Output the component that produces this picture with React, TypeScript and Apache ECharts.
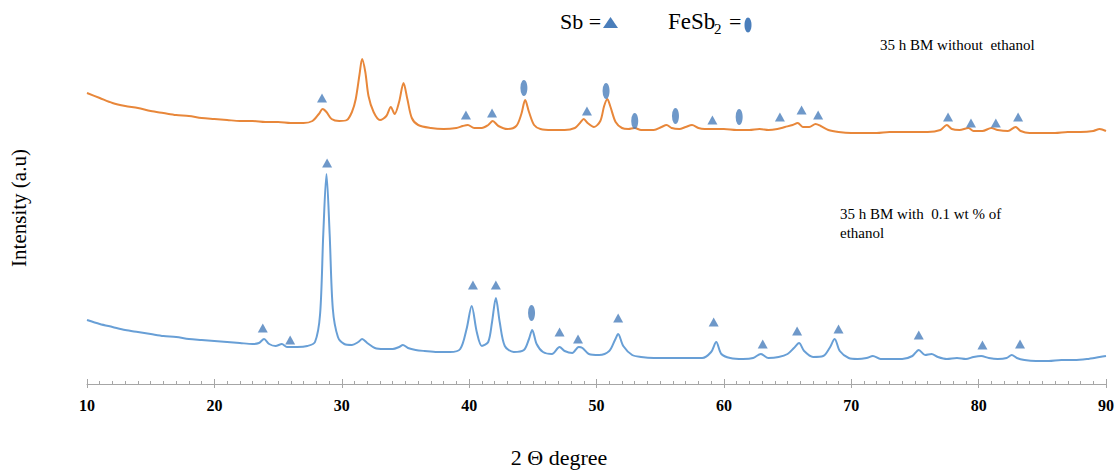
import React, { useEffect, useRef } from "react";
import * as echarts from "echarts";

// 2θ (degree) vs intensity (a.u.)
const orangeScan: [number, number][] = [
  [10, 291], [11, 286], [12, 281], [13, 278], [14, 276], [15, 273], [16, 271], [17, 269], [18, 268], [19, 266],
  [20, 265], [21, 264], [22, 263], [23, 263], [24, 262], [25, 262], [26, 261], [27, 261], [27.7, 263], [28.2, 270],
  [28.5, 275], [28.8, 272], [29.2, 265], [29.8, 263], [30.4, 264], [30.8, 272], [31.1, 285], [31.4, 310], [31.6, 325],
  [31.85, 312], [32.1, 288], [32.5, 272], [33.0, 264], [33.5, 268], [33.85, 277], [34.15, 270], [34.5, 282], [34.85, 301],
  [35.15, 285], [35.5, 266], [36, 259], [37, 256], [38, 255], [39, 256], [39.5, 258], [39.9, 259], [40.4, 256], [41, 256],
  [41.5, 259], [41.85, 263], [42.3, 258], [43, 255], [43.7, 258], [44.1, 270], [44.4, 284], [44.7, 272], [45.1, 259],
  [45.6, 255], [46.5, 254], [47.5, 254], [48.3, 256], [48.7, 261], [49.0, 265], [49.3, 261], [49.8, 257], [50.3, 263],
  [50.6, 278], [50.85, 285], [51.1, 277], [51.5, 262], [52, 256], [52.5, 255], [53, 256], [53.5, 254], [54.5, 254],
  [55.1, 257], [55.5, 259], [55.9, 256], [56.5, 255], [57.0, 257], [57.5, 259], [58, 256], [58.5, 255], [59.3, 255],
  [60, 255], [61, 254], [62, 254], [62.8, 255], [63.5, 254], [64.2, 255], [64.8, 257], [65.4, 259], [65.8, 261],
  [66.2, 257], [66.7, 257], [67.2, 260], [67.6, 258], [68.2, 254], [69, 252], [70, 251], [71, 251], [72, 251], [73, 252],
  [74, 252], [75, 252], [76, 252], [77.0, 254], [77.5, 259], [77.9, 255], [78.5, 254], [79.2, 256], [79.6, 253],
  [80.3, 253], [81.0, 256], [81.5, 254], [82.3, 253], [82.9, 257], [83.3, 253], [84, 251], [85, 251], [86, 251],
  [87, 252], [88, 252], [89, 253], [89.5, 255], [90, 253],
];

const blueScan: [number, number][] = [
  [10, 64], [11, 60], [12, 57], [13, 54], [14, 52], [15, 50], [16, 48], [17, 47], [18, 45], [19, 44], [20, 43], [21, 42],
  [22, 41], [23, 40], [23.5, 41], [23.9, 45], [24.3, 40], [24.8, 38], [25.3, 40], [25.7, 37], [26.5, 37], [27.3, 38],
  [27.9, 42], [28.3, 70], [28.55, 150], [28.8, 210], [29.05, 150], [29.3, 75], [29.7, 47], [30.2, 40], [30.8, 39],
  [31.3, 42], [31.6, 45], [32.0, 41], [32.6, 36], [33.3, 35], [34.0, 35], [34.5, 37], [34.8, 39], [35.2, 36], [35.8, 34],
  [36.5, 33], [37.5, 32], [38.5, 32], [39.3, 35], [39.8, 55], [40.2, 78], [40.6, 52], [41.0, 38], [41.5, 42], [41.8, 62],
  [42.1, 86], [42.4, 62], [42.8, 38], [43.5, 32], [44.3, 34], [44.7, 45], [44.95, 54], [45.3, 40], [45.8, 32], [46.5, 30],
  [47.1, 37], [47.5, 33], [48.1, 31], [48.6, 37], [48.9, 36], [49.4, 30], [50.2, 29], [51.0, 33], [51.45, 44], [51.7, 50],
  [52.1, 38], [52.8, 29], [53.5, 27], [54.5, 26], [55.5, 26], [56.5, 26], [57.5, 26], [58.3, 26], [59.0, 32], [59.4, 42],
  [59.8, 30], [60.5, 26], [61.5, 25], [62.3, 26], [62.9, 30], [63.5, 26], [64.3, 27], [65.0, 30], [65.5, 36], [65.9, 41],
  [66.3, 33], [67, 27], [67.8, 28], [68.3, 36], [68.7, 45], [69.1, 33], [69.8, 26], [70.5, 25], [71.2, 26], [71.7, 28],
  [72.3, 25], [73, 25], [74, 25], [74.8, 28], [75.3, 34], [75.8, 29], [76.3, 30], [76.8, 27], [77.5, 25], [78.3, 26],
  [79, 25], [79.6, 27], [80.2, 28], [80.8, 26], [81.5, 25], [82.2, 26], [82.6, 29], [83.0, 26], [83.6, 24], [84.5, 23],
  [85.5, 23], [86.5, 24], [87.5, 24], [88.5, 25], [89.5, 27], [90, 28],
];

// phase markers (position above each peak)
const sbMarks: [number, number][] = [
  [28.45, 286], [39.75, 269], [41.8, 271], [49.25, 273], [59.1, 264], [64.4, 267], [66.1, 274], [67.4, 269],
  [77.6, 267], [79.4, 261], [81.35, 261], [83.1, 267],
  [23.8, 56], [25.95, 44], [28.85, 221], [40.3, 99], [42.1, 99], [47.1, 52], [48.55, 45], [51.7, 66], [59.2, 62],
  [63.05, 40], [65.75, 53], [69.0, 55], [75.3, 49], [80.3, 39], [83.25, 40],
];
const feSb2Marks: [number, number][] = [
  [44.3, 296], [50.75, 293], [53.0, 263], [56.2, 268], [61.2, 267],
  [44.9, 71],
];

const xMin = 10;
const xMax = 90;
const xStep = 10;

const serifName = "Liberation Serif";
const serif = "'Liberation Serif', 'Times New Roman', serif";
const markerColor = "#4a7ebb";

export default function App() {
  const ref = useRef<HTMLDivElement>(null);
  useEffect(() => {
    const chart = echarts.init(ref.current!, null, { renderer: "svg" });
    chart.setOption({
      animation: false,
      backgroundColor: "#ffffff",
      grid: { left: 87, right: 14, top: 34, bottom: 91, containLabel: false },
      xAxis: [
        {
          type: "value",
          min: xMin,
          max: xMax,
          interval: xStep,
          axisLine: { show: true, lineStyle: { color: "#a6a6a6", width: 1 } },
          axisTick: { show: true, inside: true, length: 5, lineStyle: { color: "#a6a6a6" } },
          minorTick: { show: true, splitNumber: 10, length: 3, lineStyle: { color: "#a6a6a6" } },
          splitLine: { show: false },
          axisLabel: {
            margin: 13,
            color: "#000",
            fontFamily: serifName,
            fontWeight: "bold",
            fontSize: 16,
          },
        },
        {
          type: "value",
          position: "bottom",
          min: xMin,
          max: xMax,
          interval: xStep,
          axisLine: { show: false },
          axisTick: { show: true, inside: false, length: 4, lineStyle: { color: "#a6a6a6" } },
          axisLabel: { show: false },
          splitLine: { show: false },
        },
      ],
      yAxis: { type: "value", min: 0, max: 350, show: false },
      series: [
        {
          type: "line",
          data: orangeScan,
          showSymbol: false,
          smooth: 0.3,
          lineStyle: { color: "#e8873a", width: 2 },
          z: 2,
        },
        {
          type: "line",
          data: blueScan,
          showSymbol: false,
          smooth: 0.3,
          lineStyle: { color: "#689fd6", width: 2 },
          z: 2,
        },
        {
          type: "scatter",
          data: sbMarks,
          symbol: "triangle",
          symbolSize: [10, 9],
          itemStyle: { color: markerColor },
          z: 3,
        },
        {
          type: "scatter",
          data: feSb2Marks,
          symbol: "circle",
          symbolSize: [7, 16],
          itemStyle: { color: markerColor },
          z: 3,
        },
      ],
      graphic: [
        {
          type: "text",
          left: 560,
          top: 10,
          style: { text: "Sb =", font: `22px ${serif}`, fill: "#000" },
        },
        {
          type: "polygon",
          shape: { points: [[603, 28], [618, 28], [610.5, 17]] },
          style: { fill: markerColor },
        },
        {
          type: "text",
          left: 668,
          top: 10,
          style: { text: "FeSb", font: `23px ${serif}`, fill: "#000" },
        },
        {
          type: "text",
          left: 714,
          top: 21,
          style: { text: "2", font: `15px ${serif}`, fill: "#000" },
        },
        {
          type: "text",
          left: 729,
          top: 10,
          style: { text: "=", font: `22px ${serif}`, fill: "#000" },
        },
        {
          type: "ellipse",
          shape: { cx: 748, cy: 25, rx: 3.5, ry: 7.5 },
          style: { fill: markerColor },
        },
        {
          type: "text",
          x: 880,
          y: 45,
          style: {
            text: "35 h BM without  ethanol",
            font: `15px ${serif}`,
            fill: "#000",
            verticalAlign: "middle",
          },
        },
        {
          type: "text",
          left: 840,
          top: 204,
          style: {
            text: "35 h BM with  0.1 wt % of\nethanol",
            font: `15px ${serif}`,
            lineHeight: 19,
            fill: "#000",
          },
        },
        {
          type: "text",
          x: 19,
          y: 208,
          rotation: Math.PI / 2,
          style: {
            text: "Intensity (a.u)",
            font: `21px ${serif}`,
            fill: "#000",
            align: "center",
            verticalAlign: "middle",
          },
        },
        {
          type: "text",
          x: 559,
          y: 457,
          style: {
            text: "2 Θ degree",
            font: `22px ${serif}`,
            fill: "#000",
            align: "center",
            verticalAlign: "middle",
          },
        },
      ],
    });
    return () => chart.dispose();
  }, []);
  return (
    <div
      ref={ref}
      style={{ position: "fixed", left: 0, top: 0, width: 1120, height: 475, background: "#fff" }}
    />
  );
}
